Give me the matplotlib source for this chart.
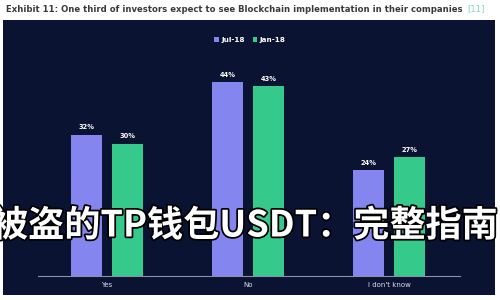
import matplotlib.pyplot as plt
import matplotlib.patheffects as pe
from matplotlib.patches import Rectangle
import numpy as np

categories = ['Yes', 'No', "I don't know"]
jul_18 = [32, 44, 24]
jan_18 = [30, 43, 27]
series_names = ['Jul-18', 'Jan-18']

title = 'Exhibit 11: One third of investors expect to see Blockchain implementation in their companies'
overlay = '被盗的TP钱包USDT：完整指南'

bg = '#0b1333'
c_jul = '#8485ef'
c_jan = '#35c98c'

fig = plt.figure(figsize=(5, 3), dpi=100, facecolor='white')

# dark panel behind the chart
fig.patches.append(Rectangle((3 / 500, 5 / 300), 492 / 500, 275 / 300,
                             transform=fig.transFigure, facecolor=bg,
                             edgecolor='none', zorder=-1))

ax = fig.add_axes([38 / 500, 24 / 300, 422 / 500, 220.5 / 300])
ax.set_facecolor('none')

t = fig.text(6 / 500, 1 - 9 / 300, title, fontsize=6.1, fontweight='bold',
             color='#3a3a3a', va='center', ha='left')
ax.annotate('[11]', xy=(1, 0.5), xycoords=t, xytext=(3, 0),
            textcoords='offset points', fontsize=6.1, color='#7fd6c8',
            va='center', ha='left', annotation_clip=False)

x = np.arange(len(categories))
w = 0.22
b1 = ax.bar(x - 0.142, jul_18, width=w, color=c_jul, label=series_names[0])
b2 = ax.bar(x + 0.145, jan_18, width=w, color=c_jan, label=series_names[1])
for bars, vals in ((b1, jul_18), (b2, jan_18)):
    for r, v in zip(bars, vals):
        ax.text(r.get_x() + r.get_width() / 2, v + 1.0, f'{v}%', ha='center',
                va='bottom', fontsize=4.8, color='white', fontweight='bold')

ax.set_xlim(-0.489, 2.504)
ax.set_ylim(0, 50)
ax.set_yticks([])
ax.set_xticks(x)
ax.set_xticklabels(categories, fontsize=5, color='#dde')
ax.tick_params(axis='x', length=0, pad=4)
for s in ['top', 'right', 'left']:
    ax.spines[s].set_visible(False)
ax.spines['bottom'].set_color('#8a90a8')
ax.spines['bottom'].set_linewidth(0.8)

leg = fig.legend(handles=[b1, b2], labels=series_names, loc='center',
                 bbox_to_anchor=(250 / 500, 1 - 40 / 300), ncol=2, frameon=False,
                 fontsize=5.2, handlelength=0.6, handleheight=0.6,
                 handletextpad=0.3, columnspacing=1.2)
for txt in leg.get_texts():
    txt.set_color('white')
    txt.set_fontweight('bold')

fig.text(245 / 500, 1 - 226 / 300, overlay, fontsize=26, fontweight='bold',
         color='white', ha='center', va='center',
         family=['Noto Sans CJK SC', 'DejaVu Sans'],
         path_effects=[pe.withStroke(linewidth=2.5, foreground='black')])

fig.savefig('out.png', dpi=100, facecolor='white')
